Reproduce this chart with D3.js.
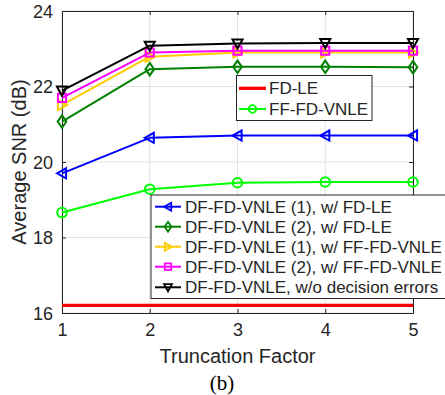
<!DOCTYPE html>
<html>
<head>
<meta charset="utf-8">
<script src="https://cdn.jsdelivr.net/npm/d3@7"></script>
<style>
	body { margin: 0; background: #fff; }
	svg { display: block; }
	text { font-family: "Liberation Sans", Arial, sans-serif; fill: #262626; }
</style>
</head>
<body>
<script>
'use strict';

// x values
const truncation = [1, 2, 3, 4, 5];
const xTicks = [1, 2, 3, 4, 5];
const yTicks = [16, 18, 20, 22, 24];

// series values (dB)
const fdLe = [16.2, 16.2, 16.2, 16.2, 16.2];
const ffFdVnle = [18.66, 19.28, 19.45, 19.47, 19.47];
const dfVnle1FdLe = [19.70, 20.64, 20.70, 20.70, 20.70];
const dfVnle2FdLe = [21.07, 22.46, 22.52, 22.52, 22.51];
const dfVnle1Ff = [21.51, 22.79, 22.90, 22.90, 22.90];
const dfVnle2Ff = [21.70, 22.90, 22.95, 22.95, 22.95];
const dfVnleNoErr = [21.89, 23.08, 23.14, 23.15, 23.15];

const seriesNames = [
	"FD-LE",
	"FF-FD-VNLE",
	"DF-FD-VNLE (1), w/ FD-LE",
	"DF-FD-VNLE (2), w/ FD-LE",
	"DF-FD-VNLE (1), w/ FF-FD-VNLE",
	"DF-FD-VNLE (2), w/ FF-FD-VNLE",
	"DF-FD-VNLE, w/o decision errors"
];

const params = {
	width: 445,
	height: 395,
	left: 62,
	right: 413,
	top: 11,
	bottom: 313
};

const series = [
	{ name: seriesNames[0], values: fdLe, color: "#ff0000", marker: null, lw: 3.3 },
	{ name: seriesNames[1], values: ffFdVnle, color: "#00ff00", marker: "circle", lw: 2 },
	{ name: seriesNames[2], values: dfVnle1FdLe, color: "#0000ff", marker: "triLeft", lw: 2 },
	{ name: seriesNames[3], values: dfVnle2FdLe, color: "#008000", marker: "diamond", lw: 2 },
	{ name: seriesNames[4], values: dfVnle1Ff, color: "#ffcc00", marker: "triRight", lw: 2 },
	{ name: seriesNames[5], values: dfVnle2Ff, color: "#ff00ff", marker: "square", lw: 2 },
	{ name: seriesNames[6], values: dfVnleNoErr, color: "#000000", marker: "triDown", lw: 2 }
];

// marker path centred at 0,0
const markerPath = (type, r) => {
	switch (type) {
		case "circle":
			return `M${r},0A${r},${r} 0 1,1 ${-r},0A${r},${r} 0 1,1 ${r},0Z`;
		case "square": {
			const q = r * 0.85;
			return `M${-q},${-q}H${q}V${q}H${-q}Z`;
		}
		case "diamond":
			return `M0,${-r * 1.3}L${r * 0.9},0L0,${r * 1.3}L${-r * 0.9},0Z`;
		case "triLeft":
			return `M${-r * 1.05},0L${r * 0.85},${-r * 1.05}L${r * 0.85},${r * 1.05}Z`;
		case "triRight":
			return `M${r * 1.05},0L${-r * 0.85},${-r * 1.05}L${-r * 0.85},${r * 1.05}Z`;
		case "triDown":
			return `M0,${r * 1.05}L${-r * 1.05},${-r * 0.85}L${r * 1.05},${-r * 0.85}Z`;
	}
	return "";
};

const svg = d3.select("body").append("svg")
	.attr("width", params.width)
	.attr("height", params.height);

const xScale = d3.scaleLinear().domain([1, 5]).range([params.left, params.right]);
const yScale = d3.scaleLinear().domain([16, 24]).range([params.bottom, params.top]);

// grid
const grid = svg.append("g").attr("stroke", "#e2e2e2").attr("stroke-width", 1);
grid.selectAll("line.gx").data(xTicks).join("line")
	.attr("x1", d => xScale(d)).attr("x2", d => xScale(d))
	.attr("y1", params.top).attr("y2", params.bottom);
grid.selectAll("line.gy").data(yTicks).join("line")
	.attr("y1", d => yScale(d)).attr("y2", d => yScale(d))
	.attr("x1", params.left).attr("x2", params.right);

// axes
const axisColor = "#262626";
const xAxis = svg.append("g")
	.attr("transform", `translate(0,${params.bottom})`)
	.call(d3.axisBottom(xScale).tickValues(xTicks).tickFormat(d3.format("d")).tickSizeInner(-4).tickSizeOuter(0).tickPadding(10));
const xAxisTop = svg.append("g")
	.attr("transform", `translate(0,${params.top})`)
	.call(d3.axisTop(xScale).tickValues(xTicks).tickFormat("").tickSizeInner(-4).tickSizeOuter(0));
const yAxis = svg.append("g")
	.attr("transform", `translate(${params.left},0)`)
	.call(d3.axisLeft(yScale).tickValues(yTicks).tickFormat(d3.format("d")).tickSizeInner(-4).tickSizeOuter(0).tickPadding(9));
const yAxisRight = svg.append("g")
	.attr("transform", `translate(${params.right},0)`)
	.call(d3.axisRight(yScale).tickValues(yTicks).tickFormat("").tickSizeInner(-4).tickSizeOuter(0));

for (let ax of [xAxis, xAxisTop, yAxis, yAxisRight]) {
	ax.select(".domain").attr("stroke", axisColor).attr("stroke-width", 1);
	ax.selectAll(".tick line").attr("stroke", axisColor);
	ax.selectAll(".tick text").attr("fill", axisColor).style("font-size", "18px")
		.style("font-family", '"Liberation Sans", Arial, sans-serif');
}
yAxis.selectAll(".tick text").attr("dy", "0.35em");

// series lines and markers
const line = d3.line()
	.x((d, i) => xScale(truncation[i]))
	.y(d => yScale(d));

const plot = svg.append("g");
for (let s of series) {
	plot.append("path")
		.attr("d", line(s.values))
		.attr("fill", "none")
		.attr("stroke", s.color)
		.attr("stroke-width", s.lw)
		.attr("stroke-linejoin", "round");
	if (s.marker) {
		plot.append("g").selectAll("path")
			.data(s.values)
			.join("path")
			.attr("transform", (d, i) => `translate(${xScale(truncation[i])},${yScale(d)})`)
			.attr("d", markerPath(s.marker, 4.8))
			.attr("fill", "none")
			.attr("stroke", s.color)
			.attr("stroke-width", 2);
	}
}

// legends
const drawLegend = (items, box, rowY, lineX0, lineX1, textX) => {
	const g = svg.append("g");
	g.append("rect")
		.attr("x", box.x).attr("y", box.y)
		.attr("width", box.w).attr("height", box.h)
		.attr("fill", "#fff").attr("stroke", axisColor).attr("stroke-width", 1);
	items.forEach((s, i) => {
		const y = rowY[i];
		g.append("line")
			.attr("x1", lineX0).attr("x2", lineX1)
			.attr("y1", y).attr("y2", y)
			.attr("stroke", s.color).attr("stroke-width", s.lw);
		if (s.marker) {
			g.append("path")
				.attr("transform", `translate(${(lineX0 + lineX1) / 2},${y})`)
				.attr("d", markerPath(s.marker, 3.8))
				.attr("fill", "none").attr("stroke", s.color).attr("stroke-width", 1.8);
		}
		g.append("text")
			.attr("x", textX).attr("y", y)
			.attr("dy", "0.35em")
			.style("font-size", "17px")
			.text(s.name);
	});
};

drawLegend(series.slice(0, 2), { x: 236.5, y: 75.5, w: 135.5, h: 45 }, [88.3, 109], 239, 266, 269);
drawLegend(series.slice(2), { x: 151, y: 195, w: 296, h: 103.5 }, [206.7, 226.7, 246.7, 266.7, 287.3], 155, 181, 185);

// axis labels
svg.append("text")
	.attr("x", (params.left + params.right) / 2)
	.attr("y", 363)
	.attr("text-anchor", "middle")
	.style("font-size", "20px")
	.text("Truncation Factor");

svg.append("text")
	.attr("transform", `translate(26,${(params.top + params.bottom) / 2}) rotate(-90)`)
	.attr("text-anchor", "middle")
	.style("font-size", "20px")
	.text("Average SNR (dB)");

svg.append("text")
	.attr("x", 222)
	.attr("y", 390)
	.attr("text-anchor", "middle")
	.style("font-size", "21px")
	.style("font-family", '"Liberation Serif", "Times New Roman", serif')
	.style("fill", "#000")
	.text("(b)");
</script>
</body>
</html>
